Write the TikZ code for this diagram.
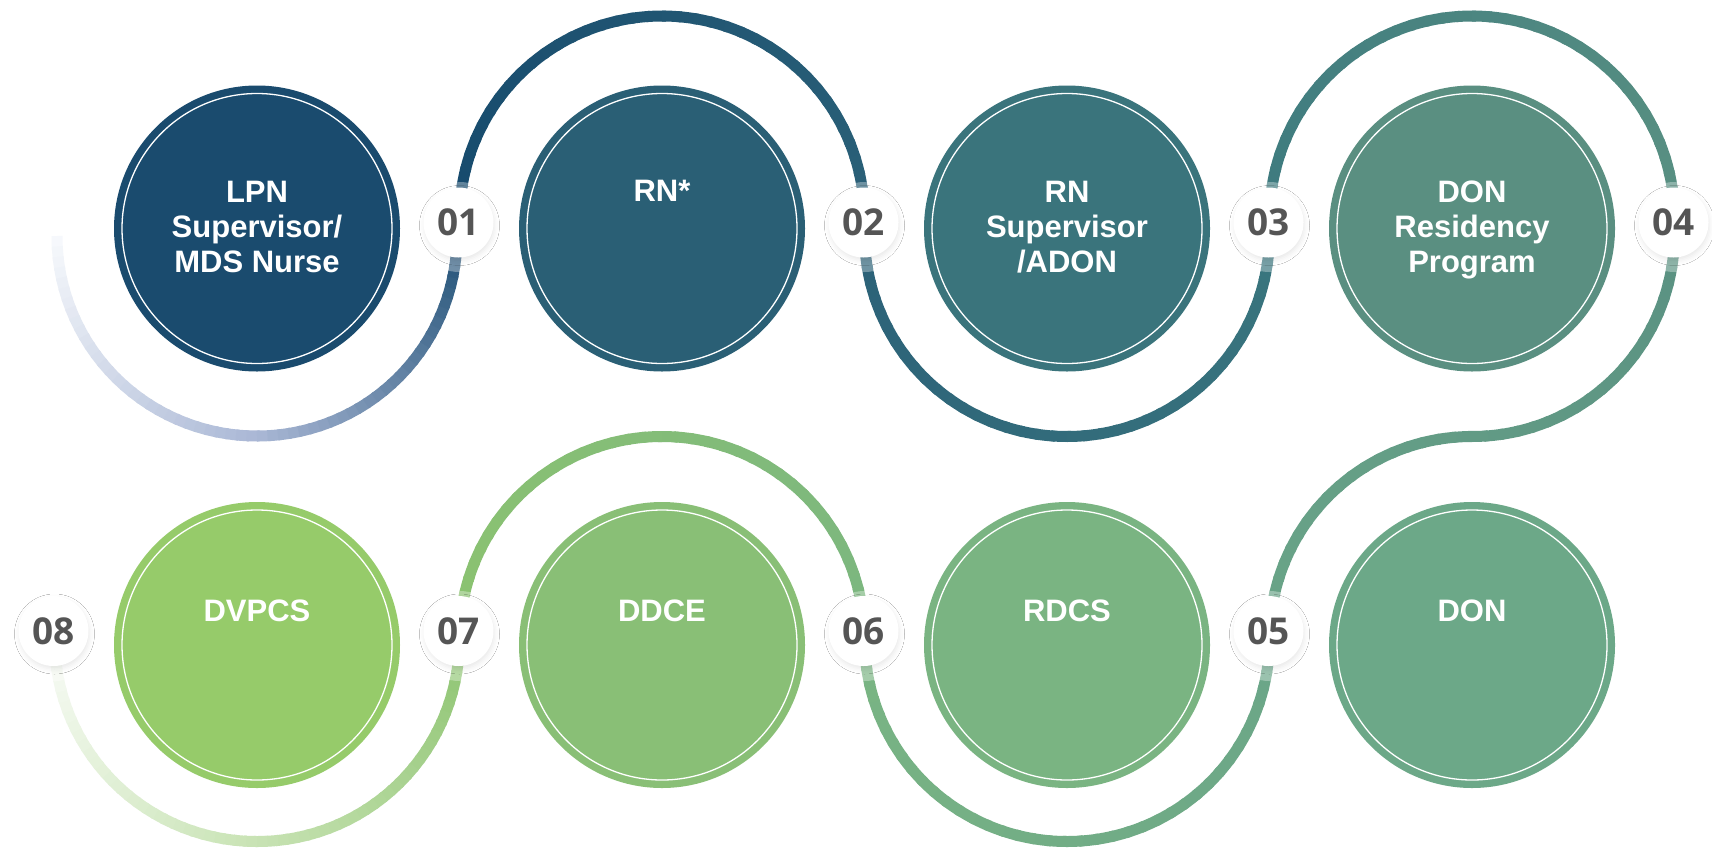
\documentclass[tikz,border=0pt]{standalone}
\usepackage{fontspec}
\setmainfont{Liberation Sans}
\newfontfamily\numfont{Open Sans}
\usetikzlibrary{calc,shadows.blur}
\definecolor{cA}{HTML}{1A4B6E}
\definecolor{cB}{HTML}{2A5F75}
\definecolor{cC}{HTML}{3A747C}
\definecolor{cD}{HTML}{5A8F81}
\definecolor{cE}{HTML}{6CA888}
\definecolor{cF}{HTML}{7AB482}
\definecolor{cG}{HTML}{89BF76}
\definecolor{cH}{HTML}{96CB6A}
\definecolor{numgray}{HTML}{555555}
\definecolor{g0}{HTML}{F7F9FC}
\definecolor{g1}{HTML}{A9B7D5}
\definecolor{g2}{HTML}{1E4F74}
\definecolor{g3}{HTML}{164A6D}
\definecolor{g4}{HTML}{2B6178}
\definecolor{g5}{HTML}{3A767E}
\definecolor{g6}{HTML}{3D7A7F}
\definecolor{g7}{HTML}{5A9182}
\definecolor{g8}{HTML}{629B85}
\definecolor{g9}{HTML}{6AA588}
\definecolor{g10}{HTML}{7AB583}
\definecolor{g11}{HTML}{7BB680}
\definecolor{g12}{HTML}{8CC370}
\definecolor{g13}{HTML}{C8E3B4}
\definecolor{g14}{HTML}{FAFCF8}
% gradient arc: #1 centre, #2 radius, #3 start angle, #4 end angle, #5 colour A, #6 colour B, #7 steps
\newcommand\garc[7]{%
  \foreach \k in {1,...,#7}{%
    \pgfmathsetmacro\aa{#3+(#4-#3)*(\k-1)/#7}%
    \pgfmathsetmacro\ab{#3+(#4-#3)*(\k+0.25)/#7}%
    \pgfmathtruncatemacro\pp{100*(\k-0.5)/#7}%
    \draw[track, draw=#6!\pp!#5] ($(#1)+(\aa:#2)$) arc[start angle=\aa, end angle=\ab, radius=#2];
  }}
\begin{document}
\begin{tikzpicture}[x=1pt,y=-1pt,
  track/.style={line width=11pt, line cap=butt},
  stepcircle/.style={circle, minimum size=286pt, inner sep=0pt, draw=none},
  ring/.style={draw=white, line width=1.3pt},
  lbl/.style={text=white, font=\bfseries\fontsize{31}{35}\selectfont, align=center, anchor=base, inner sep=0pt},
  badge/.style={circle, fill=white, minimum size=70pt, inner sep=0pt, text=numgray,
    font=\numfont\bfseries\fontsize{37}{37}\selectfont,
    blur shadow={shadow xshift=1pt, shadow yshift=-3pt, shadow blur radius=5pt, shadow opacity=9}},
  halo/.style={fill=white, fill opacity=0.32, draw=none},
]
\useasboundingbox[fill=white] (0,0) rectangle (1712,857);

% arc centres
\coordinate (o1) at (257,236);
\coordinate (o2) at (662,218.5);
\coordinate (o3) at (1067,234);
\coordinate (o4) at (1472,218.5);
\coordinate (o4b) at (1472,234);
\coordinate (o5) at (1472,639);
\coordinate (o6) at (1067,639);
\coordinate (o7) at (662,639);
\coordinate (o8) at (257,639);

% track
\garc{o1}{200}{180}{90}{g0}{g1}{30}
\garc{o1}{200}{90}{0}{g1}{g2}{30}
\garc{o2}{202.5}{180}{360}{g3}{g4}{40}
\garc{o3}{202.5}{180}{0}{g4}{g5}{40}
\garc{o4}{202.5}{180}{360}{g6}{g7}{40}
\garc{o4b}{202.5}{0}{90}{g7}{g8}{20}
\garc{o5}{202.5}{270}{180}{g8}{g9}{20}
\garc{o6}{202.5}{0}{180}{g9}{g10}{40}
\garc{o7}{202.5}{360}{180}{g11}{g12}{40}
\garc{o8}{202.5}{0}{90}{g12}{g13}{30}
\garc{o8}{202.5}{90}{180}{g13}{g14}{30}

% circles
\node[stepcircle, fill=cA] (c1) at (257,228.5) {};
\node[stepcircle, fill=cB] (c2) at (662,228.5) {};
\node[stepcircle, fill=cC] (c3) at (1067,228.5) {};
\node[stepcircle, fill=cD] (c4) at (1472,228.5) {};
\node[stepcircle, fill=cE] (c5) at (1472,645) {};
\node[stepcircle, fill=cF] (c6) at (1067,645) {};
\node[stepcircle, fill=cG] (c7) at (662,645) {};
\node[stepcircle, fill=cH] (c8) at (257,645) {};
\foreach \c in {c1,c2,c3,c4,c5,c6,c7,c8}{\draw[ring] (\c.center) circle[radius=135];}

% labels (base anchor = baseline of the last line)
\node[lbl] (t1) at (257,272) {LPN\\Supervisor/\\MDS Nurse};
\node[lbl] (t2) at (662,201.7) {RN*};
\node[lbl] (t3) at (1067,272) {RN\\Supervisor\\/ADON};
\node[lbl] (t4) at (1472,272) {DON\\Residency\\Program};
\node[lbl] (t5) at (1472,621.7) {DON};
\node[lbl] (t6) at (1067,621.7) {RDCS};
\node[lbl] (t7) at (662,621.7) {DDCE};
\node[lbl] (t8) at (257,621.7) {DVPCS};

% halos
\foreach \x/\y in {459.5/227,864.5/227,1269.5/227,1674.5/227,1269.5/636,864.5/636,459.5/636,54.5/636}{
  \fill[halo] (\x,\y) circle[radius=45];}

% badges
\node[badge] (b1) at (458.5,222.5) {01};
\node[badge] (b2) at (863.5,222.5) {02};
\node[badge] (b3) at (1268.5,222.5) {03};
\node[badge] (b4) at (1673.5,222.5) {04};
\node[badge] (b5) at (1268.5,631) {05};
\node[badge] (b6) at (863.5,631) {06};
\node[badge] (b7) at (458.5,631) {07};
\node[badge] (b8) at (53.5,631) {08};
\end{tikzpicture}
\end{document}
